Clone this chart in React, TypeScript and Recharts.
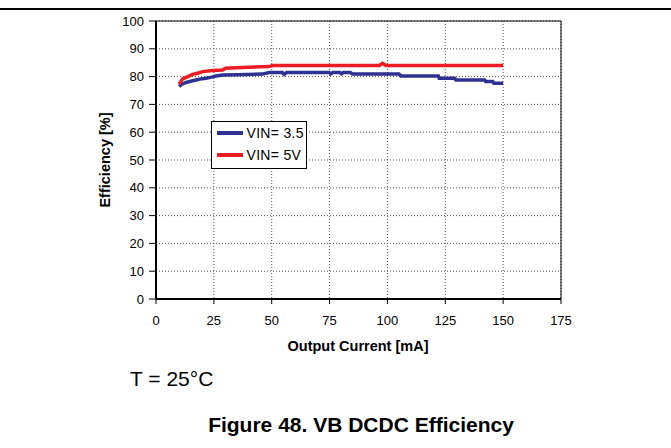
import React from "react";
import {
  LineChart,
  Line,
  XAxis,
  YAxis,
  CartesianGrid,
  ReferenceLine,
  Legend,
} from "recharts";

const FONT = "'Liberation Sans', Arial, sans-serif";

// output current [mA] / efficiency [%]
const blueCurrent = [10, 11, 13, 15, 17.3, 19, 21.6, 24, 25.9, 28.8, 35, 46, 48.9, 54.5, 55.4, 56.5, 65, 74.8, 75.6, 76.4, 79.4, 80.2, 81, 84, 84.9, 105, 105.8, 122, 122.4, 129, 129.6, 142, 142.5, 145.5, 146, 150];
const blueEff = [76.4, 77.2, 77.9, 78.3, 78.8, 79.1, 79.4, 79.8, 80.2, 80.6, 80.7, 80.9, 81.5, 81.5, 80.8, 81.5, 81.5, 81.5, 81.0, 81.5, 81.5, 81.0, 81.5, 81.5, 80.9, 80.9, 80.2, 80.2, 79.4, 79.4, 78.8, 78.8, 78.2, 78.2, 77.6, 77.6];

const redCurrent = [10, 11.5, 13.5, 15.8, 18, 20.1, 24.5, 28.8, 30, 34.6, 48.9, 50.4, 96.5, 97.9, 99.3, 150];
const redEff = [77.3, 79.2, 79.9, 80.8, 81.2, 81.8, 82.2, 82.4, 83.0, 83.2, 83.6, 84.0, 84.0, 84.8, 84.0, 84.0];

const xTicks = [0, 25, 50, 75, 100, 125, 150, 175];
const yTicks = [0, 10, 20, 30, 40, 50, 60, 70, 80, 90, 100];

const series = [
  { name: "VIN= 3.5", color: "#2e3192", data: blueCurrent.map((x, i) => ({ x, y: blueEff[i] })) },
  { name: "VIN= 5V", color: "#ed1c24", data: redCurrent.map((x, i) => ({ x, y: redEff[i] })) },
];

function LegendBox() {
  return (
    <div
      style={{
        width: 96,
        height: 48,
        boxSizing: "border-box",
        border: "1.5px solid #000",
        background: "#fff",
        padding: "0 0 1px 4.5px",
        fontFamily: FONT,
        fontSize: 14,
        color: "#000",
      }}
    >
      {series.map((s) => (
        <div key={s.name} style={{ height: 22, display: "flex", alignItems: "center" }}>
          <span style={{ width: 26, height: 4, background: s.color, marginRight: 4 }} />
          <span style={{ whiteSpace: "nowrap", letterSpacing: 0.3 }}>{s.name}</span>
        </div>
      ))}
    </div>
  );
}

export default function App() {
  const tick = { fill: "#000", fontSize: 13, fontFamily: FONT };
  return (
    <div style={{ position: "absolute", left: 0, top: 0, width: 671, height: 448, background: "#fff" }}>
      <div style={{ position: "absolute", left: 0, top: 8, width: 671, height: 2, background: "#000" }} />
      <LineChart width={671} height={448} margin={{ top: 21, right: 110, left: 96, bottom: 119 }}>
        <CartesianGrid stroke="#555" strokeDasharray="1 2" />
        <XAxis
          type="number"
          dataKey="x"
          domain={[0, 175]}
          ticks={xTicks}
          interval={0}
          height={30}
          tick={tick}
          tickSize={5}
          tickMargin={12}
          axisLine={{ stroke: "#000", strokeWidth: 2 }}
          tickLine={{ stroke: "#000" }}
        />
        <YAxis
          type="number"
          domain={[0, 100]}
          ticks={yTicks}
          interval={0}
          width={60}
          tick={tick}
          tickSize={7}
          tickMargin={5}
          axisLine={{ stroke: "#000", strokeWidth: 2 }}
          tickLine={{ stroke: "#000" }}
        />
        <ReferenceLine y={100} stroke="#000" strokeWidth={1} />
        <ReferenceLine x={175} stroke="#000" strokeWidth={1} />
        {series.map((s) => (
          <Line
            key={s.name}
            data={s.data}
            dataKey="y"
            name={s.name}
            type="linear"
            stroke={s.color}
            strokeWidth={3.5}
            dot={false}
            isAnimationActive={false}
          />
        ))}
        <Legend
          layout="vertical"
          align="center"
          verticalAlign="middle"
          content={() => <LegendBox />}
          wrapperStyle={{ left: 211, top: 121, width: 96 }}
        />
      </LineChart>
      <div
        style={{
          position: "absolute",
          left: 358,
          top: 346,
          transform: "translate(-50%, -50%)",
          fontFamily: FONT,
          fontWeight: "bold",
          fontSize: 14.5,
          whiteSpace: "nowrap",
        }}
      >
        Output Current [mA]
      </div>
      <div
        style={{
          position: "absolute",
          left: 105,
          top: 160,
          transform: "translate(-50%, -50%) rotate(-90deg)",
          fontFamily: FONT,
          fontWeight: "bold",
          fontSize: 14.5,
          whiteSpace: "nowrap",
        }}
      >
        Efficiency [%]
      </div>
      <div style={{ position: "absolute", left: 130, top: 367, fontFamily: FONT, fontSize: 21, whiteSpace: "nowrap" }}>
        T = 25°C
      </div>
      <div
        style={{
          position: "absolute",
          left: 361,
          top: 413,
          transform: "translateX(-50%)",
          fontFamily: FONT,
          fontWeight: "bold",
          fontSize: 21,
          whiteSpace: "nowrap",
        }}
      >
        Figure 48. VB DCDC Efficiency
      </div>
    </div>
  );
}
